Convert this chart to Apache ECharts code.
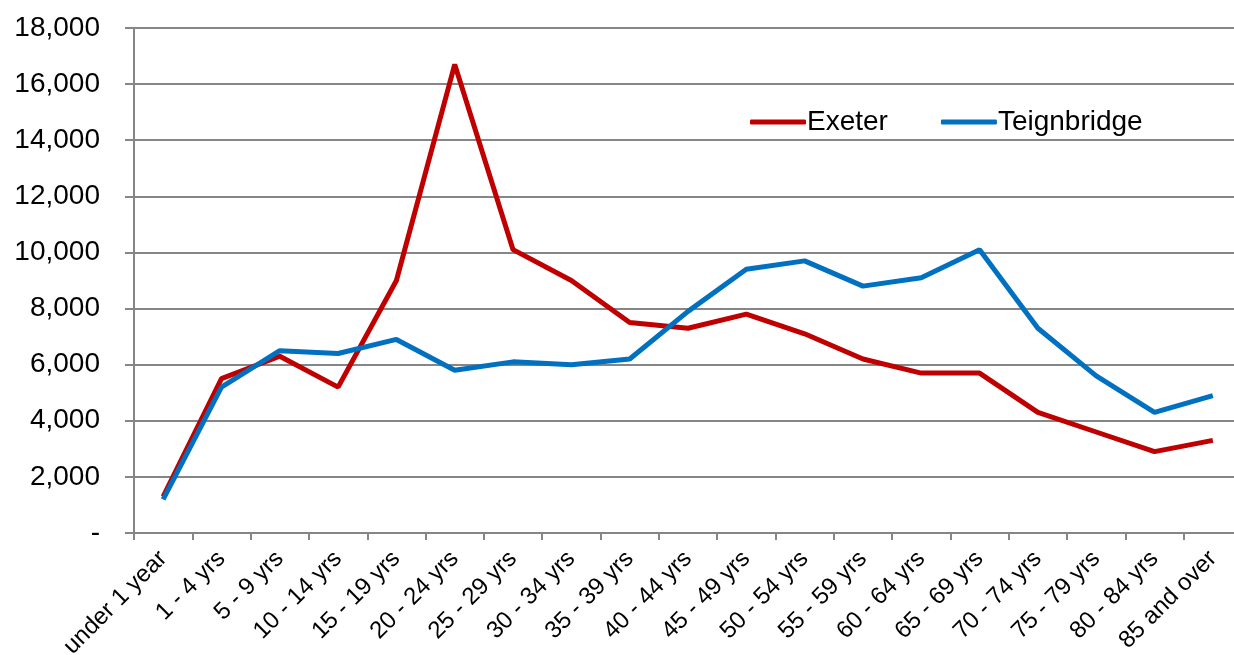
<!DOCTYPE html>
<html>
<head>
<meta charset="utf-8">
<script src="https://cdn.jsdelivr.net/npm/echarts@6/dist/echarts.min.js"></script>
<style>
html,body{margin:0;padding:0;background:#fff;overflow:hidden;}
#chart{width:1234px;height:655px;}
</style>
</head>
<body>
<div id="chart"></div>
<script>
const categories = ["under 1 year","1 - 4 yrs","5 - 9 yrs","10 - 14 yrs","15 - 19 yrs","20 - 24 yrs","25 - 29 yrs","30 - 34 yrs","35 - 39 yrs","40 - 44 yrs","45 - 49 yrs","50 - 54 yrs","55 - 59 yrs","60 - 64 yrs","65 - 69 yrs","70 - 74 yrs","75 - 79 yrs","80 - 84 yrs","85 and over"];
const exeter = [1300,5500,6300,5200,9000,16700,10100,9000,7500,7300,7800,7100,6200,5700,5700,4300,3600,2900,3300];
const teignbridge = [1200,5200,6500,6400,6900,5800,6100,6000,6200,7900,9400,9700,8800,9100,10100,7300,5600,4300,4900];
const seriesNames = ["Exeter","Teignbridge"];

const chart = echarts.init(document.getElementById('chart'));
const font = "'Liberation Sans', Arial, sans-serif";
chart.setOption({
  animation:false,
  grid:{left:134,width:1108,top:28,height:505,containLabel:false,outerBoundsMode:'none'},
  legend:{
    left:745, top:103,
    icon:'roundRect', itemWidth:56, itemHeight:5, itemGap:53,
    textStyle:{fontFamily:font,fontSize:28,color:'#000',padding:[0,0,0,-4]},
    data:seriesNames
  },
  xAxis:{
    type:'category', data:categories, boundaryGap:true,
    axisLine:{lineStyle:{color:'#868686',width:2}},
    axisTick:{show:true,alignWithLabel:false,length:7,lineStyle:{color:'#868686',width:2}},
    axisLabel:{rotate:45,interval:0,fontFamily:font,fontSize:24,color:'#000',margin:22}
  },
  yAxis:{
    type:'value', min:0, max:18000, interval:2000,
    axisLine:{show:true,lineStyle:{color:'#868686',width:2}},
    axisTick:{show:true,length:9,lineStyle:{color:'#868686',width:2}},
    splitLine:{lineStyle:{color:'#868686',width:2}},
    axisLabel:{fontFamily:font,fontSize:28,color:'#000',margin:34,
      formatter:v=> v===0 ? '-' : v.toLocaleString('en-US')}
  },
  series:[
    {name:seriesNames[0],type:'line',data:exeter,symbol:'none',
     lineStyle:{color:'#C00000',width:5},itemStyle:{color:'#C00000'}},
    {name:seriesNames[1],type:'line',data:teignbridge,symbol:'none',
     lineStyle:{color:'#0070C0',width:5},itemStyle:{color:'#0070C0'}}
  ]
});
</script>
</body>
</html>
